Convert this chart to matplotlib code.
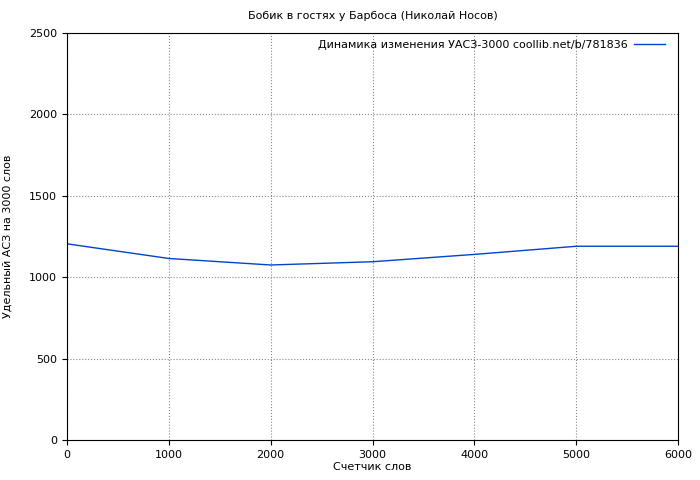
import matplotlib
matplotlib.use("Agg")
import matplotlib.pyplot as plt

words = [0, 1000, 2000, 3000, 4000, 5000, 6000]
values = [1205, 1115, 1075, 1095, 1140, 1190, 1190]
title = "Бобик в гостях у Барбоса (Николай Носов)"
legend_label = "Динамика изменения УАСЗ-3000 coollib.net/b/781836"

plt.rcParams['font.family'] = ['DejaVu Sans']
plt.rcParams['font.size'] = 8
fig = plt.figure(figsize=(7, 4.8), dpi=100)
ax = fig.add_axes([67/700, 40/480, 611/700, 407/480])
ax.plot(words, values, color='#0044cc', linewidth=1, label=legend_label)
ax.set_xlim(0, 6000)
ax.set_ylim(0, 2500)
ax.set_xticks(range(0, 6001, 1000))
ax.set_yticks(range(0, 2501, 500))
ax.grid(True, linestyle=':', color='#888888', linewidth=0.8)
ax.set_title(title, fontsize=8, pad=10)
ax.set_xlabel("Счетчик слов", fontsize=8, labelpad=2)
ax.set_ylabel("Удельный АСЗ на 3000 слов", fontsize=8, labelpad=12)
leg = ax.legend(loc='upper right', frameon=False, markerfirst=False, fontsize=8,
                handlelength=2.8, handletextpad=0.6, borderaxespad=0.2,
                bbox_to_anchor=(0.99, 1.0))
fig.savefig("out.png", dpi=100)
